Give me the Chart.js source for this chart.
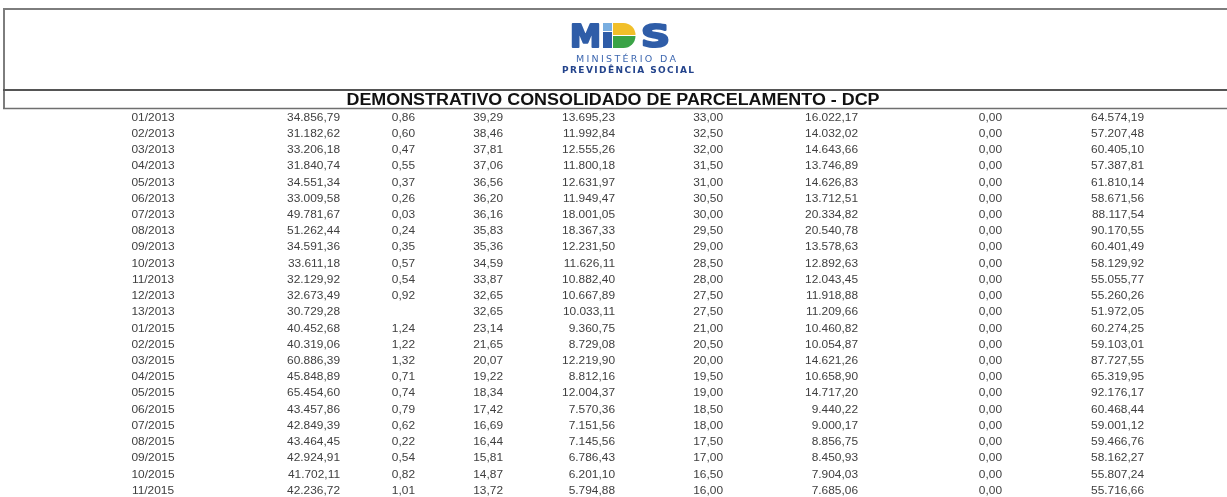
<!DOCTYPE html>
<html>
<head>
<meta charset="utf-8">
<script src="https://cdn.jsdelivr.net/npm/chart.js@4"></script>
<style>
  html, body { margin: 0; padding: 0; background: #fff; }
  canvas { display: block; }
</style>
</head>
<body>
<canvas id="canvas" width="1227" height="497"></canvas>
<script>
// table values
var periods = ["01/2013","02/2013","03/2013","04/2013","05/2013","06/2013","07/2013","08/2013",
  "09/2013","10/2013","11/2013","12/2013","13/2013","01/2015","02/2015","03/2015","04/2015",
  "05/2015","06/2015","07/2015","08/2015","09/2015","10/2015","11/2015"];
var col2 = [34856.79,31182.62,33206.18,31840.74,34551.34,33009.58,49781.67,51262.44,34591.36,
  33611.18,32129.92,32673.49,30729.28,40452.68,40319.06,60886.39,45848.89,65454.60,43457.86,
  42849.39,43464.45,42924.91,41702.11,42236.72];
var col3 = [0.86,0.60,0.47,0.55,0.37,0.26,0.03,0.24,0.35,0.57,0.54,0.92,null,1.24,1.22,1.32,
  0.71,0.74,0.79,0.62,0.22,0.54,0.82,1.01];
var col4 = [39.29,38.46,37.81,37.06,36.56,36.20,36.16,35.83,35.36,34.59,33.87,32.65,32.65,23.14,
  21.65,20.07,19.22,18.34,17.42,16.69,16.44,15.81,14.87,13.72];
var col5 = [13695.23,11992.84,12555.26,11800.18,12631.97,11949.47,18001.05,18367.33,12231.50,
  11626.11,10882.40,10667.89,10033.11,9360.75,8729.08,12219.90,8812.16,12004.37,7570.36,
  7151.56,7145.56,6786.43,6201.10,5794.88];
var col6 = [33.00,32.50,32.00,31.50,31.00,30.50,30.00,29.50,29.00,28.50,28.00,27.50,27.50,21.00,
  20.50,20.00,19.50,19.00,18.50,18.00,17.50,17.00,16.50,16.00];
var col7 = [16022.17,14032.02,14643.66,13746.89,14626.83,13712.51,20334.82,20540.78,13578.63,
  12892.63,12043.45,11918.88,11209.66,10460.82,10054.87,14621.26,10658.90,14717.20,9440.22,
  9000.17,8856.75,8450.93,7904.03,7685.06];
var col8 = [0,0,0,0,0,0,0,0,0,0,0,0,0,0,0,0,0,0,0,0,0,0,0,0];
var col9 = [64574.19,57207.48,60405.10,57387.81,61810.14,58671.56,88117.54,90170.55,60401.49,
  58129.92,55055.77,55260.26,51972.05,60274.25,59103.01,87727.55,65319.95,92176.17,60468.44,
  59001.12,59466.76,58162.27,55807.24,55716.66];

var title = "DEMONSTRATIVO CONSOLIDADO DE PARCELAMENTO - DCP";

// where each column sits (x of the text anchor), layout only
var colAnchor = [153, 340, 415, 503, 615, 723, 858, 1002, 1144];

function fmt(v) {
  if (v === null || v === undefined) return '';
  var p = v.toFixed(2).split('.');
  return p[0].replace(/\B(?=(\d{3})+(?!\d))/g, '.') + ',' + p[1];
}

var columns = [periods, col2, col3, col4, col5, col6, col7, col8, col9];

var datasets = columns.map(function (vals, c) {
  return {
    label: 'col' + c,
    data: vals.map(function (v, i) { return { x: colAnchor[c], y: i }; }),
    cellText: vals.map(function (v) { return typeof v === 'string' ? v : fmt(v); }),
    align: c === 0 ? 'center' : 'right',
    pointRadius: 0,
    showLine: false
  };
});

function drawSpaced(ctx, text, cx, y, width) {
  // spreads the letters so the word fills the given width
  var total = 0, ws = [];
  for (var i = 0; i < text.length; i++) { ws.push(ctx.measureText(text[i]).width); total += ws[i]; }
  var sp = (width - total) / (text.length - 1);
  var x = cx - width / 2;
  ctx.textAlign = 'left';
  for (var j = 0; j < text.length; j++) { ctx.fillText(text[j], x, y); x += ws[j] + sp; }
}

function fatLetter(ctx, text, x, y, width) {
  // heavy logo letter: filled and stroked, stretched to the width
  var w = ctx.measureText(text).width;
  ctx.save();
  ctx.translate(x, y);
  ctx.scale(width / w, 1);
  ctx.textAlign = 'left';
  ctx.lineJoin = 'round';
  ctx.lineWidth = 2.2;
  ctx.strokeStyle = ctx.fillStyle;
  ctx.fillText(text, 0, 0);
  ctx.strokeText(text, 0, 0);
  ctx.restore();
}

// header: frame, logo and title
var headerPlugin = {
  id: 'header',
  beforeDraw: function (chart) {
    var ctx = chart.ctx;
    ctx.save();
    ctx.fillStyle = '#fff';
    ctx.fillRect(0, 0, chart.width, chart.height);

    ctx.strokeStyle = '#7d7d7d';
    ctx.lineWidth = 2;
    ctx.beginPath();
    ctx.moveTo(3, 9); ctx.lineTo(1227, 9);
    ctx.moveTo(4, 9); ctx.lineTo(4, 108);
    ctx.stroke();
    ctx.strokeStyle = '#555';
    ctx.beginPath();
    ctx.moveTo(3, 90); ctx.lineTo(1227, 90);
    ctx.stroke();
    ctx.lineWidth = 1.5;
    ctx.strokeStyle = '#6f6f6f';
    ctx.beginPath();
    ctx.moveTo(3, 108.5); ctx.lineTo(1227, 108.5);
    ctx.stroke();

    // logo
    var blue = '#2f5da8';
    ctx.fillStyle = blue;
    ctx.textBaseline = 'alphabetic';
    ctx.font = 'bold 32px "DejaVu Sans"';
    fatLetter(ctx, 'M', 570, 47, 31);
    // stem of the P with its light square
    ctx.fillStyle = '#79aee0';
    ctx.fillRect(603, 23, 9, 8);
    ctx.fillStyle = blue;
    ctx.fillRect(603, 32, 9, 16);
    // bowl: yellow top, green bottom
    ctx.fillStyle = '#f1bf2a';
    ctx.beginPath();
    ctx.moveTo(613, 23); ctx.lineTo(623.5, 23);
    ctx.arc(623.5, 35, 12, -Math.PI / 2, 0);
    ctx.lineTo(613, 35);
    ctx.closePath(); ctx.fill();
    ctx.fillStyle = '#3aa346';
    ctx.beginPath();
    ctx.moveTo(613, 36); ctx.lineTo(635.5, 36);
    ctx.arc(623.5, 36, 12, 0, Math.PI / 2);
    ctx.lineTo(613, 48);
    ctx.closePath(); ctx.fill();
    ctx.fillStyle = blue;
    fatLetter(ctx, 'S', 641, 47, 29);

    ctx.fillStyle = '#3d67b0';
    ctx.font = '9.5px "DejaVu Sans"';
    drawSpaced(ctx, 'MINISTÉRIO DA', 626, 62, 100);
    ctx.fillStyle = '#24448c';
    ctx.font = 'bold 9px "DejaVu Sans"';
    drawSpaced(ctx, 'PREVIDÊNCIA SOCIAL', 628, 73, 132);

    // title, squeezed to the width it has in the scan
    ctx.fillStyle = '#111';
    ctx.font = 'bold 16px "Liberation Sans"';
    ctx.textAlign = 'center';
    var w = ctx.measureText(title).width;
    ctx.translate(613, 105);
    ctx.scale(533 / w, 1);
    ctx.fillText(title, 0, 0);
    ctx.restore();
  }
};

// writes each cell at the point the scales give it
var cellPlugin = {
  id: 'cells',
  afterDatasetsDraw: function (chart) {
    var ctx = chart.ctx;
    ctx.save();
    ctx.fillStyle = '#404040';
    ctx.font = '10px "Liberation Sans"';
    ctx.textBaseline = 'middle';
    chart.data.datasets.forEach(function (ds, d) {
      var meta = chart.getDatasetMeta(d);
      meta.data.forEach(function (pt, i) {
        var txt = ds.cellText[i];
        if (!txt) return;
        ctx.save();
        ctx.translate(pt.x, pt.y);
        ctx.scale(1.19, 1);
        ctx.textAlign = ds.align;
        ctx.fillText(txt, 0, 0);
        ctx.restore();
      });
    });
    ctx.restore();
  }
};

new Chart(document.getElementById('canvas').getContext('2d'), {
  type: 'scatter',
  data: { datasets: datasets },
  options: {
    responsive: false,
    animation: false,
    devicePixelRatio: 1,
    layout: { padding: 0 },
    plugins: { legend: { display: false }, tooltip: { enabled: false } },
    scales: {
      x: { type: 'linear', display: false, min: 0, max: 1227 },
      y: { type: 'linear', display: false, reverse: true, min: -7.276, max: 23.371 }
    }
  },
  plugins: [headerPlugin, cellPlugin]
});
</script>
</body>
</html>
